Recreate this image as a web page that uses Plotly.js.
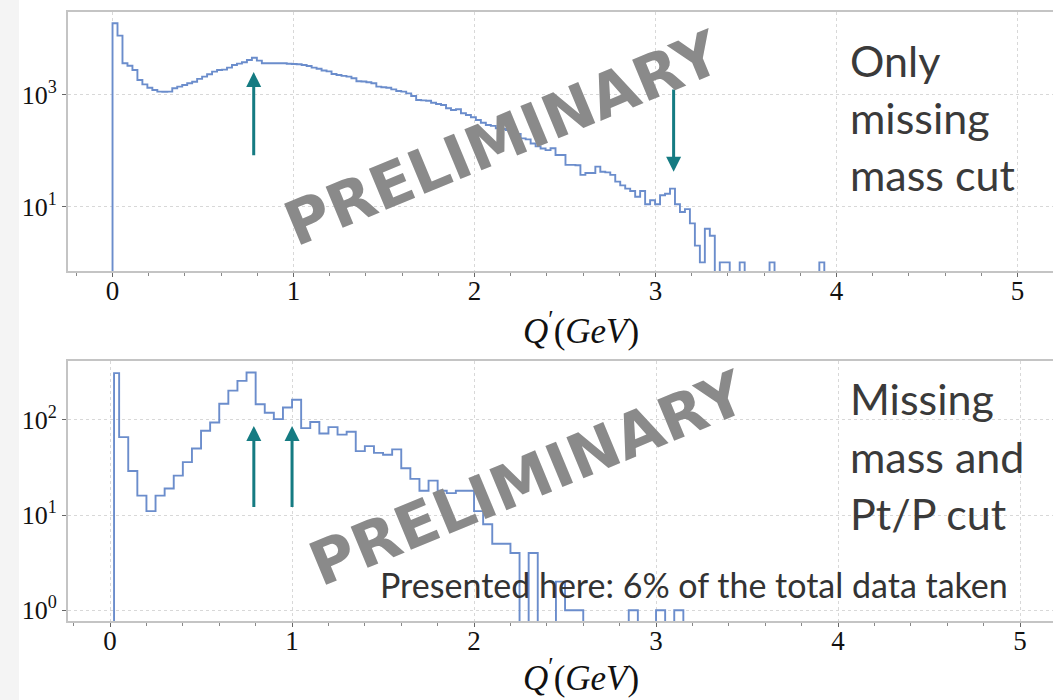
<!DOCTYPE html>
<html><head><meta charset="utf-8">
<script src="https://cdn.plot.ly/plotly-3.0.1.min.js"></script>
<style>
html,body{margin:0;padding:0;}
body{background:linear-gradient(to right,#f4f4f4 0,#f4f4f4 19px,#ffffff 19px);}
#chart{width:1053px;height:700px;}
</style>
</head><body><div id="chart"></div>
<script>
// ---------- data ----------
const topBinWidth = 0.0275;          // GeV, bins start at Q' = 0
const topCounts = [
 19300,11560,3700,3350,2800,1860,1550,1350,1230,1150,1140,1150,1320,1410,1510,1620,1730,1940,2130,2350,
 2620,2800,2850,3090,3450,3640,3850,4240,4660,4120,3700,3700,3700,3700,3700,3620,3600,3550,3450,3300,
 3090,2950,2750,2650,2380,2280,2200,2130,1990,1760,1740,1690,1620,1410,1380,1350,1260,1180,1150,1070,
 960,814,800,790,728,690,662,577,539,555,470,437,398,357,319,290,280,253,245,236,
 206,200,167,160,135,120,110,103,111,84,84,56,56,55,37,40,40,52,42,41,
 37,28,24,21,19,15,19,11,13,11,16,17,21,11,8,9,5,2,1,4,
 3,0,1,1,0,0,1,0,0,0,0,0,1,0,0,0,0,0,0,0,
 0,0,1
];
const bottomFirstEdge = 0.022;       // GeV, first (partial) bin starts here
const bottomBinWidth = 0.05;         // GeV, regular bin edges at multiples of 0.05
const bottomCounts = [
 310,66,29,16,11,16,19,26,36,50,77,94,148,203,257,315,146,119,102,135,
 163,82,95,72,84,70,75,47,53,45,43,49,31,24,18,23,18,17,18,18,
 11,8,5,5,4,0,4,0,0,2,1,1,0,0,0,0,0,1,0,0,
 1,0,1
];
const topYTickVals = [10, 1000];
const topYTickText = ['10<sup>1</sup>', '10<sup>3</sup>'];
const bottomYTickVals = [1, 10, 100];
const bottomYTickText = ['10<sup>0</sup>', '10<sup>1</sup>', '10<sup>2</sup>'];
const xTickVals = [0, 1, 2, 3, 4, 5];
const xTickText = ['0', '1', '2', '3', '4', '5'];
// arrows: Q' position, tail count, head count
const topArrows = [ {q: 0.78, tail: 78, head: 2570}, {q: 3.10, tail: 1330, head: 42} ];
const bottomArrows = [ {q: 0.79, tail: 11.7, head: 86.5}, {q: 1.00, tail: 11.7, head: 86.5} ];
const topLabel = ['Only', 'missing', 'mass cut'];
const bottomLabel = ['Missing', 'mass and', 'Pt/P cut'];
const noteText = 'Presented here: 6% of the total data taken';
const watermark = 'PRELIMINARY';

// ---------- helpers ----------
const FLOOR = 1e-3; // empty bins fall below the log axis
function stepTrace(edges, counts, xa, ya) {
  const xs = [edges[0], edges[0]];
  const ys = [FLOOR, counts[0] > 0 ? counts[0] : FLOOR];
  for (let i = 1; i < counts.length; i++) { xs.push(edges[i]); ys.push(counts[i] > 0 ? counts[i] : FLOOR); }
  const n = counts.length;
  xs.push(edges[n]); ys.push(counts[n-1] > 0 ? counts[n-1] : FLOOR);
  xs.push(edges[n]); ys.push(FLOOR);
  return {x: xs, y: ys, xaxis: xa, yaxis: ya, type: 'scatter', mode: 'lines',
    line: {shape: 'hv', color: '#6b8dcc', width: 1.9}, hoverinfo: 'skip', showlegend: false};
}
const topEdges = [];
for (let i = 0; i <= topCounts.length; i++) topEdges.push(i * topBinWidth);
const bottomEdges = [bottomFirstEdge];
for (let i = 1; i <= bottomCounts.length; i++) bottomEdges.push(i * bottomBinWidth);

const W = 1053, H = 700;
const px = v => v / W, py = v => 1 - v / H;

const serif = 'Liberation Serif, Times New Roman, serif';
const spine = '#c4c4c4';
function xAxis(range, dom, anchor) {
  return {domain: dom, anchor: anchor, range: range, tickvals: xTickVals, ticktext: xTickText,
    ticks: 'outside', ticklen: 4, tickwidth: 1, tickcolor: '#666', ticklabelstandoff: -9,
    minor: {dtick: 0.2, tick0: 0, ticks: 'outside', ticklen: 3, tickwidth: 1, tickcolor: '#888', showgrid: false},
    showgrid: true, gridcolor: '#d8d8d8', griddash: 'dot', gridwidth: 1,
    showline: true, mirror: true, linecolor: spine, linewidth: 2, zeroline: false,
    tickfont: {family: serif, size: 27, color: '#111'}, fixedrange: true};
}
function yAxis(range, dom, anchor, tv, tt) {
  return {type: 'log', domain: dom, anchor: anchor, range: range, tickvals: tv, ticktext: tt,
    ticks: 'outside', ticklen: 4, tickwidth: 1, tickcolor: '#666',
    showgrid: true, gridcolor: '#d8d8d8', griddash: 'dot', gridwidth: 1,
    showline: true, mirror: false, linecolor: spine, linewidth: 2, zeroline: false,
    tickfont: {family: serif, size: 26, color: '#111'}, fixedrange: true};
}

const ann = [];
const arrowColor = '#157b82';
function addArrows(list, xr, yr) {
  list.forEach(a => ann.push({x: a.q, y: Math.log10(a.head), ax: a.q, ay: Math.log10(a.tail),
    xref: xr, yref: yr, axref: xr, ayref: yr, showarrow: true, arrowhead: 2, arrowsize: 1,
    arrowwidth: 3, arrowcolor: arrowColor, text: ''}));
}
addArrows(topArrows, 'x', 'y');
addArrows(bottomArrows, 'x2', 'y2');

const sans = 'Lato, Open Sans, sans-serif';
const labelFont = {family: sans, size: 43, color: '#3a3a3a'};
[60, 117, 174].forEach((yy, i) => ann.push({x: px(848), y: py(yy), xref: 'paper', yref: 'paper',
  xanchor: 'left', yanchor: 'middle', text: topLabel[i], showarrow: false, font: labelFont}));
[399, 456, 513].forEach((yy, i) => ann.push({x: px(848), y: py(yy), xref: 'paper', yref: 'paper',
  xanchor: 'left', yanchor: 'middle', text: bottomLabel[i], showarrow: false, font: labelFont}));
ann.push({x: px(378), y: py(584), xref: 'paper', yref: 'paper', xanchor: 'left', yanchor: 'middle',
  text: noteText, showarrow: false, font: {family: sans, size: 34, color: '#333'}});

const wmFont = {family: 'DejaVu Sans, sans-serif', size: 61, color: '#8a8a8a', weight: 'bold'};
ann.push({x: px(502), y: py(138), xref: 'paper', yref: 'paper', xanchor: 'center', yanchor: 'middle',
  text: '<b>' + watermark + '</b>', textangle: -22.5, showarrow: false, font: wmFont});
ann.push({x: px(527), y: py(478), xref: 'paper', yref: 'paper', xanchor: 'center', yanchor: 'middle',
  text: '<b>' + watermark + '</b>', textangle: -22.5, showarrow: false, font: wmFont});

const titleFont = {family: serif, size: 35, color: '#111'};
const xTitle = '<i>Q</i><sup>′</sup>(<i>GeV</i>)';
ann.push({x: px(581), y: py(328), xref: 'paper', yref: 'paper', xanchor: 'center', yanchor: 'middle',
  text: xTitle, showarrow: false, font: titleFont});
ann.push({x: px(581), y: 0, xref: 'paper', yref: 'paper', xanchor: 'center', yanchor: 'bottom',
  text: xTitle, showarrow: false, font: titleFont});

const layout = {
  width: W, height: H, margin: {l: 0, r: 0, t: 0, b: 0},
  paper_bgcolor: 'rgba(0,0,0,0)', plot_bgcolor: '#ffffff', showlegend: false,
  xaxis: xAxis([-0.246, 5.196], [px(68), 1], 'y'),
  yaxis: yAxis([-0.154, 4.487], [py(271), py(12)], 'x', topYTickVals, topYTickText),
  xaxis2: xAxis([-0.231, 5.181], [px(68), 1], 'y2'),
  yaxis2: yAxis([-0.113, 2.619], [py(621), py(361)], 'x2', bottomYTickVals, bottomYTickText),
  annotations: ann
};
Plotly.newPlot('chart', [stepTrace(topEdges, topCounts, 'x', 'y'), stepTrace(bottomEdges, bottomCounts, 'x2', 'y2')],
  layout, {displayModeBar: false, staticPlot: true});
</script></body></html>
